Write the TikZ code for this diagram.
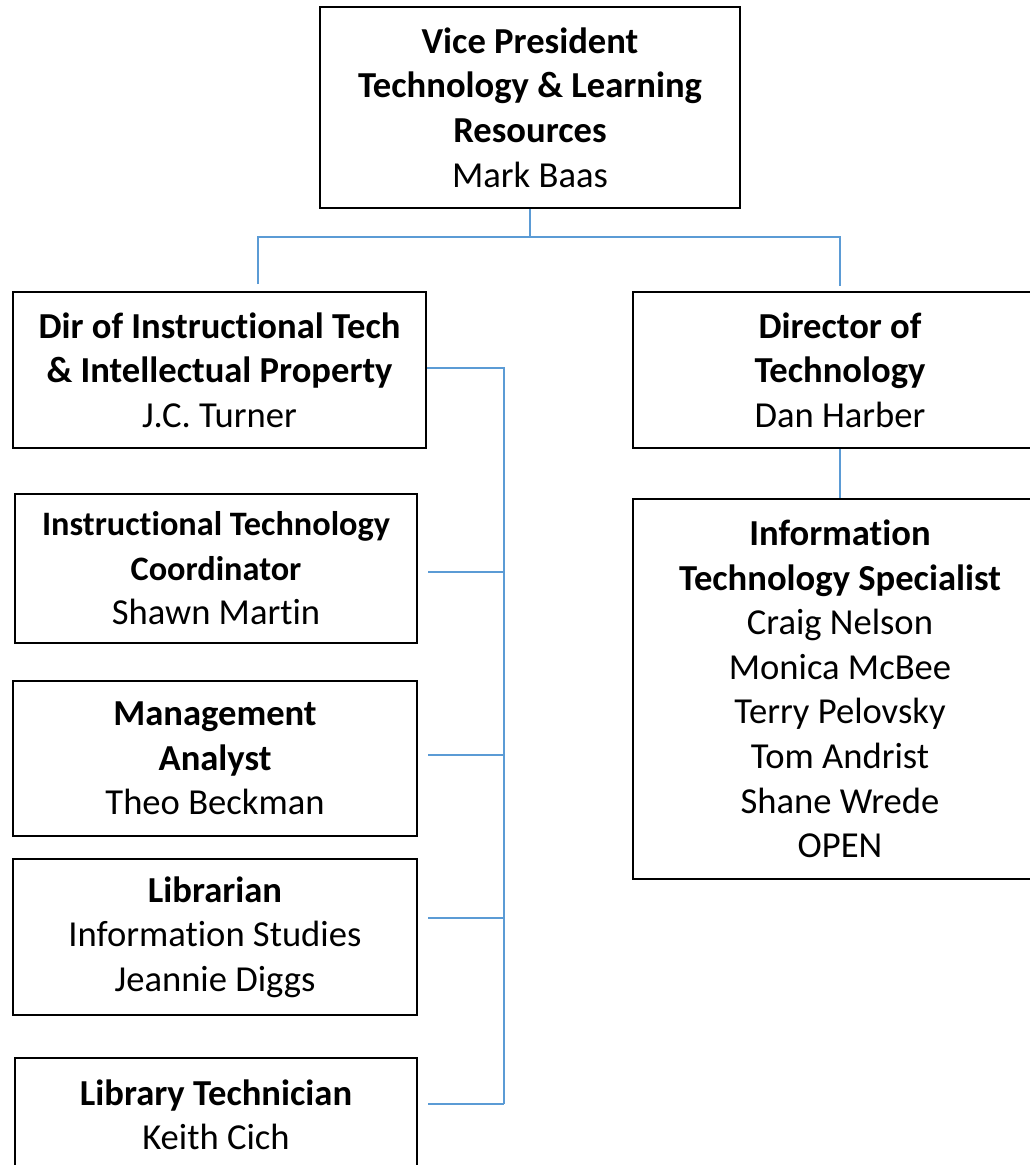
\documentclass[tikz,border=0pt]{standalone}
\usepackage{fontspec}
\setmainfont{Carlito}[Ligatures=NoCommon]
\usetikzlibrary{positioning}
\definecolor{linkblue}{HTML}{5B9BD5}
\tikzset{box/.style={draw, line width=1.5pt, inner sep=0pt, align=center,
    font=\fontsize{27.45}{33.4}\selectfont},
  boxsize/.style 2 args={minimum width=#1*0.75pt, minimum height=#2*0.75pt},
  link/.style={draw=linkblue, line width=1pt}}
\newcommand{\smtitle}[1]{{\fontsize{25.7}{31.5}\selectfont\bfseries #1}}

\begin{document}
\begin{tikzpicture}[x=0.75pt, y=-0.75pt]
            \clip (0,0) rectangle (1030,1165);
            \node[box, boxsize={420}{201}] (vice_president) at (530,107.5)
              {\textbf{Vice President}\\\textbf{Technology \& Learning}\\\textbf{Resources}\\Mark Baas};
            \node[box, boxsize={413}{156}] (dir_instr) at (219.5,370)
              {\textbf{Dir of Instructional Tech}\\\textbf{\& Intellectual Property}\\J.C. Turner};
            \node[box, boxsize={414}{156}] (dir_tech) at (840,370)
              {\textbf{Director of}\\\textbf{Technology}\\Dan Harber};
            \node[box, boxsize={402}{149}] (coordinator) at (216,568.5)
              {\smtitle{Instructional Technology}\\\smtitle{Coordinator}\\Shawn Martin};
            \node[box, boxsize={404}{155}] (analyst) at (215,758.5)
              {\textbf{Management}\\\textbf{Analyst}\\Theo Beckman};
            \node[box, boxsize={404}{156}] (librarian) at (215,937)
              {\textbf{Librarian}\\Information Studies\\Jeannie Diggs};
            \node[box, boxsize={402}{114}] (lib_tech) at (216,1115)
              {\textbf{Library Technician}\\Keith Cich};
            \node[box, boxsize={414}{380}] (specialist) at (840,689)
              {\textbf{Information}\\\textbf{Technology Specialist}\\Craig Nelson\\Monica McBee\\Terry Pelovsky\\Tom Andrist\\Shane Wrede\\OPEN};
            % connectors
            \coordinate (vp_join) at (530,237);
            \coordinate (left_drop) at (258,284);
            \coordinate (right_drop) at (840,286);
            \coordinate (spine_top) at (504,368);
            \coordinate (spine_bot) at (504,1104);
            \draw[link] (vice_president.south) -- (vp_join);
            \draw[link] (left_drop) |- (right_drop |- vp_join) -- (right_drop);
            \draw[link] (dir_instr.east |- spine_top) -- (spine_top) -- (spine_bot);
            \foreach \n/\y in {coordinator/572, analyst/755, librarian/918, lib_tech/1104}
              \draw[link] ([xshift=7.5pt]\n.east |- 0,\y) -- (spine_top |- 0,\y);
            \draw[link] (dir_tech) -- (specialist);
      \end{tikzpicture}
\end{document}
